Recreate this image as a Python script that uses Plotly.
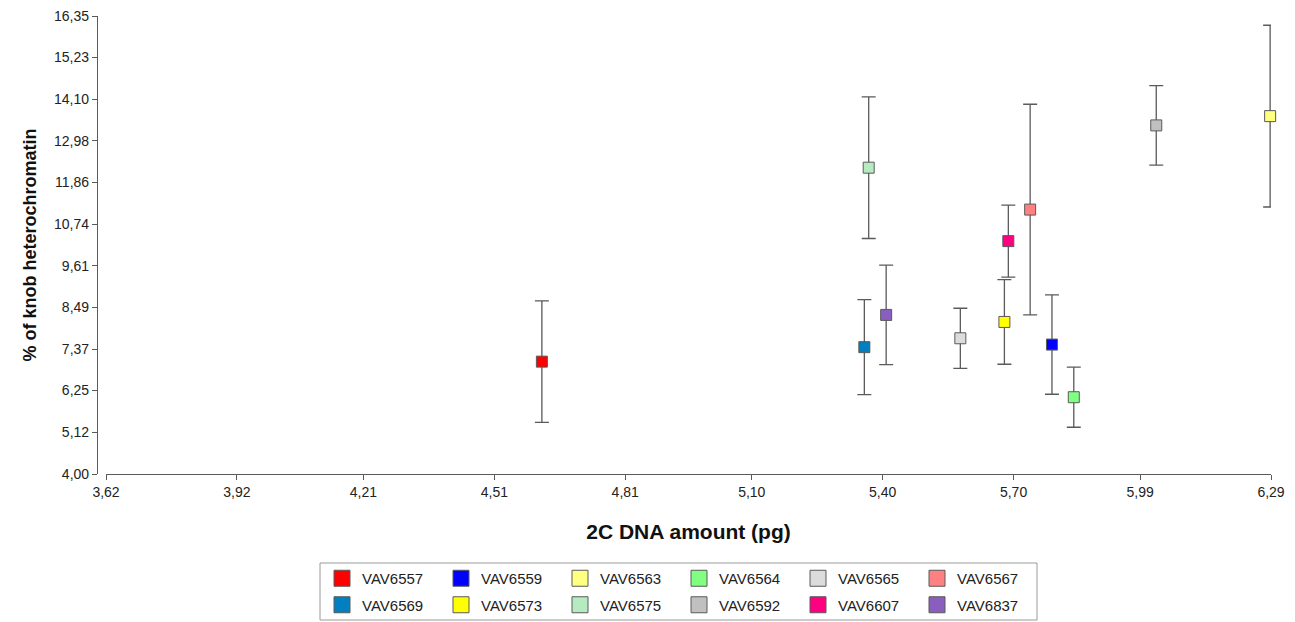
import plotly.graph_objects as go

# ---- data ----
accessions = ["VAV6557", "VAV6559", "VAV6563", "VAV6564", "VAV6565", "VAV6567",
              "VAV6569", "VAV6573", "VAV6575", "VAV6592", "VAV6607", "VAV6837"]
dna_pg = [4.619, 5.788, 6.288, 5.838, 5.578, 5.738,
          5.358, 5.679, 5.368, 6.027, 5.688, 5.408]
knob_pct = [7.03, 7.49, 13.65, 6.07, 7.66, 11.13,
            7.42, 8.10, 12.26, 13.40, 10.28, 8.29]
knob_err = [1.64, 1.34, 2.45, 0.81, 0.81, 2.84,
            1.28, 1.14, 1.91, 1.07, 0.97, 1.34]
colors = ["#FF0000", "#0000FF", "#FFFF80", "#80FF80", "#DCDCDC", "#FF8080",
          "#0080C0", "#FFFF00", "#B6EBC1", "#C0C0C0", "#FF0080", "#8A5EBE"]

x_ticks = [3.62, 3.92, 4.21, 4.51, 4.81, 5.10, 5.40, 5.70, 5.99, 6.29]
y_ticks = [4.00, 5.12, 6.25, 7.37, 8.49, 9.61, 10.74, 11.86, 12.98, 14.10, 15.23, 16.35]

x_title = "2C DNA amount (pg)"
y_title = "% of knob heterochromatin"

SANS = "Liberation Sans, Arial, sans-serif"
EDGE = "#5a5a5a"

fig = go.Figure()

for i, name in enumerate(accessions):
    fig.add_trace(go.Scatter(
        x=[dna_pg[i]], y=[knob_pct[i]], mode="markers", name=name,
        legendgroup=name, showlegend=False,
        marker=dict(symbol="square", size=11, color=colors[i],
                    line=dict(color=EDGE, width=1)),
        error_y=dict(type="data", array=[knob_err[i]], symmetric=True,
                     color=EDGE, thickness=1.3, width=7),
        cliponaxis=False,
    ))

# legend entries (two rows of six)
for i, name in enumerate(accessions):
    fig.add_trace(go.Scatter(
        x=[None], y=[None], mode="markers", name=name, legendgroup=name,
        showlegend=True, legend="legend" if i < 6 else "legend2",
        marker=dict(symbol="square", size=16, color=colors[i],
                    line=dict(color=EDGE, width=1)),
    ))

W, H = 1295, 622
ML, MR, MT, MB = 97, 24, 16, 148
PW = W - ML - MR
PH = H - MT - MB

legend_common = dict(
    orientation="h", xref="container", yref="container",
    xanchor="left", yanchor="middle",
    font=dict(family=SANS, size=15, color="#222"),
    entrywidth=74, bgcolor="rgba(0,0,0,0)", borderwidth=0,
    itemclick=False, itemdoubleclick=False,
)

fig.update_layout(
    width=W, height=H,
    margin=dict(l=ML, r=MR, t=MT, b=MB, autoexpand=False),
    paper_bgcolor="white", plot_bgcolor="white",
    separators=",.",
    showlegend=True,
    legend=dict(x=322 / W, y=1 - 578.5 / H, **legend_common),
    legend2=dict(x=322 / W, y=1 - 605 / H, **legend_common),
    xaxis=dict(
        domain=[9 / PW, 1], range=[x_ticks[0], x_ticks[-1]],
        tickvals=x_ticks, tickformat=".2f",
        showgrid=False, zeroline=False,
        showline=True, linecolor=EDGE, linewidth=1.2,
        ticks="outside", ticklen=5, tickcolor=EDGE, tickwidth=1.2,
        tickfont=dict(family=SANS, size=14, color="#222"),
        title=dict(text="<b>" + x_title + "</b>", standoff=25,
                   font=dict(family=SANS, size=21, color="#111")),
    ),
    yaxis=dict(
        anchor="free", position=0,
        range=[y_ticks[0], y_ticks[-1]],
        tickvals=y_ticks, tickformat=".2f",
        showgrid=False, zeroline=False,
        showline=True, linecolor=EDGE, linewidth=1.2,
        ticks="outside", ticklen=5, tickcolor=EDGE, tickwidth=1.2,
        tickfont=dict(family=SANS, size=14, color="#222"),
        title=dict(text="<b>" + y_title + "</b>", standoff=11,
                   font=dict(family=SANS, size=18, color="#111")),
    ),
    shapes=[dict(
        type="rect", xref="paper", yref="paper", layer="below",
        x0=(320 - ML) / PW, x1=(1037 - ML) / PW,
        y0=(H - MB - 620) / PH, y1=(H - MB - 563) / PH,
        line=dict(color="#9a9a9a", width=1), fillcolor="rgba(0,0,0,0)",
    )],
)

# remove the browser's default page margin so the figure sits at (0, 0)
fig.write_html("out.html",
               config={"displayModeBar": False},
               post_script="document.body.style.margin='0';document.body.style.overflow='hidden';")
